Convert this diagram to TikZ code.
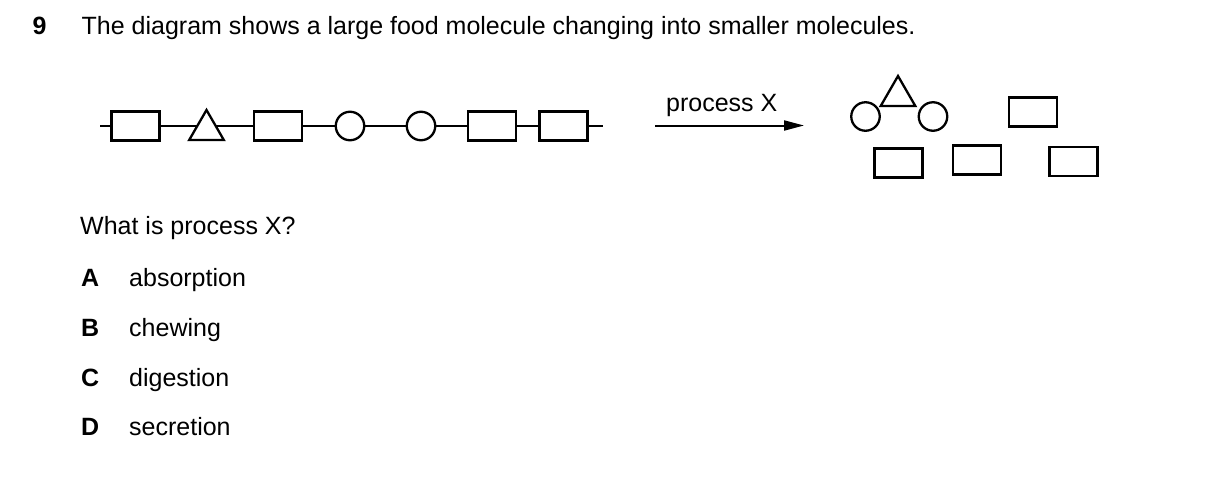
\documentclass[tikz,border=0pt]{standalone}
\usepackage{fontspec}
\setmainfont{Liberation Sans}
\usetikzlibrary{shapes.geometric,arrows.meta}
\tikzset{
  txt/.style={anchor=base west,inner sep=0pt,font=\fontsize{25}{29}\selectfont},
  btxt/.style={txt,font=\fontsize{25}{29}\selectfont\bfseries},
  rbox/.style={draw,line width=2.3pt,fill=white,minimum width=48pt,minimum height=29pt,inner sep=0pt},
  cnode/.style={draw,circle,line width=2.3pt,fill=white,minimum size=28.5pt,inner sep=0pt},
  tnode/.style={draw,regular polygon,regular polygon sides=3,line width=2.3pt,fill=white,minimum size=40pt,inner sep=0pt},
  bond/.style={line width=2.3pt},
  arr/.style={line width=2pt,-{Triangle[length=20pt,width=10pt]}}
}
\begin{document}
\begin{tikzpicture}[x=1pt,y=-1pt]
\useasboundingbox (0,0) rectangle (1209,493);
% heading
\node[btxt] (num) at (32.5,34.5) {9};
\node[txt] (title) at (81.5,34.5) {The diagram shows a large food molecule changing into smaller molecules.};
% chain
\coordinate (s) at (100,126);
\coordinate (e) at (603,126);
\draw[bond] (s) -- (e);
\node[rbox] (r1) at (135.5,126) {};
\node[tnode] (t1) at (206.5,130) {};
\node[rbox] (r2) at (278,126) {};
\node[cnode] (c1) at (350,126) {};
\node[cnode] (c2) at (421,126) {};
\node[rbox] (r3) at (492,126) {};
\node[rbox] (r4) at (563.5,126) {};
% arrow
\coordinate (a1) at (655,125.5);
\coordinate (a2) at (804,125.5);
\draw[arr] (a1) -- (a2);
\node[txt] (px) at (666,111.5) {process X};
% products
\node[cnode] (p1) at (865.5,116.5) {};
\node[tnode] (p2) at (898,96) {};
\node[cnode] (p3) at (933,116.5) {};
\node[rbox] (p4) at (1033,112) {};
\node[rbox] (p5) at (898.5,163) {};
\node[rbox] (p6) at (977,160) {};
\node[rbox] (p7) at (1073.5,161.5) {};
% question
\node[txt] (q) at (80,234) {What is process X?};
\node[btxt] (la) at (81,286.5) {A};
\node[txt] (oa) at (129,286.5) {absorption};
\node[btxt] (lb) at (81,336) {B};
\node[txt] (ob) at (129,336) {chewing};
\node[btxt] (lc) at (81,386) {C};
\node[txt] (oc) at (129,386) {digestion};
\node[btxt] (ld) at (81,435) {D};
\node[txt] (od) at (129,435) {secretion};
\end{tikzpicture}
\end{document}
